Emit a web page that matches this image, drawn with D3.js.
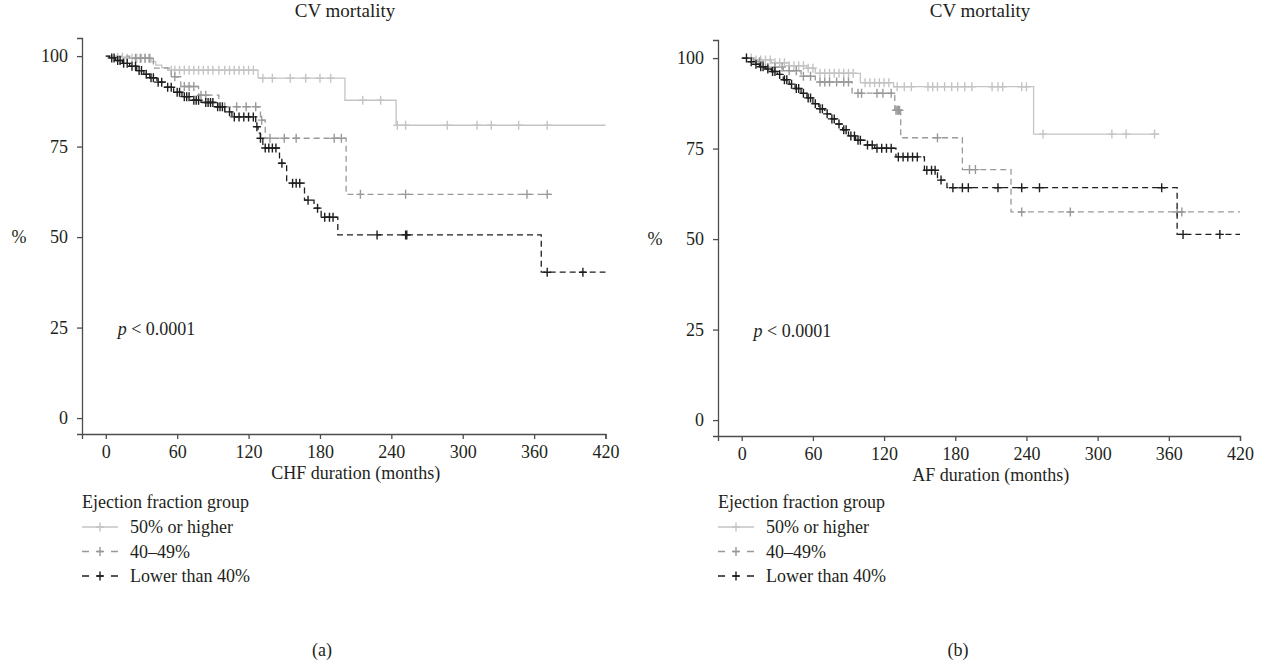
<!DOCTYPE html>
<html lang="en">
<head>
<meta charset="utf-8">
<title>CV mortality by ejection fraction group</title>
<style>
html, body {
    margin: 0;
    background: #fff;
}
svg text {
    font-family: "Liberation Serif", "Times New Roman", serif;
    fill: #231f20;
}
.axis path, .axis line {
    stroke: #4d4d4d;
    stroke-width: 1.3;
}
.axis text {
    font-size: 18px;
}
</style>
</head>
<body>
<svg id="chart" width="1268" height="667"></svg>

<script src="https://cdnjs.cloudflare.com/ajax/libs/d3/7.8.5/d3.min.js"></script>
<script>
// Tick labels
const months = [0, 60, 120, 180, 240, 300, 360, 420];
const percents = [0, 25, 50, 75, 100];
const groups = ['50% or higher', '40\u201349%', 'Lower than 40%'];

// Panel (a): CHF duration. Steps are [month, survival %], last one is where the curve ends
const chfHighSteps = [[0,100],[8,99.7],[15,99.4],[38,98.5],[42,97.5],[47,96.8],[52,96.1],[128,93.9],[201,87.8],[244,80.9],[420,80.9]];
const chfHighCensor = [10,14,18,22,26,30,33,36,55,58,62,66,70,74,78,82,86,90,95,100,104,108,112,116,120,124,132,140,155,168,180,189,216,231,245,252,287,312,324,347,371];
const chfMidSteps = [[0,100],[20,99.4],[40,96.7],[55,94.3],[63,91.6],[78,89.2],[95,86],[130,82.3],[134,77.3],[202,61.8],[375,61.8]];
const chfMidCensor = [25,29,33,37,58,66,70,74,80,84,100,110,118,126,131,138,150,160,192,198,214,252,354,371];
const chfLowSteps = [[0,100],[3,99.5],[8,98.8],[14,98],[20,97.2],[26,96],[32,95],[37,94],[43,92.8],[50,91.4],[57,90],[64,88.8],[72,87.8],[80,87.2],[92,86],[100,84.6],[106,83.2],[126,80.5],[128,78.7],[130,77.3],[132,74.6],[146,70.4],[152,64.9],[167,60.2],[175,58],[181,55.5],[195,50.6],[366,40.3],[420,40.3]];
const chfLowCensor = [5,7,10,12,15,18,22,25,28,30,34,38,40,44,47,52,55,60,62,66,68,70,74,76,78,84,86,88,90,94,96,98,104,108,112,116,120,124,127,130,134,137,140,143,148,157,160,163,170,178,184,188,191,228,252,253,371,401];

// Panel (b): AF duration
const afHighSteps = [[0,100],[10,99.5],[25,98.7],[40,97.9],[55,97.2],[62,95.8],[100,93.2],[128,92.1],[246,79],[352,79]];
const afHighCensor = [8,12,16,20,24,28,32,36,40,44,48,52,56,60,66,70,74,78,82,86,90,94,104,108,112,116,120,124,131,137,143,157,161,165,171,177,182,188,194,211,216,220,236,240,254,312,324,348];
const afMidSteps = [[0,100],[10,99],[20,97.5],[35,96.5],[50,95],[62,93.4],[93,90.3],[129,85.6],[134,78],[186,69.2],[227,57.5],[420,57.5]];
const afMidCensor = [15,22,28,34,40,46,52,58,66,70,74,80,86,90,98,101,114,119,126,130,131,132,133,165,192,197,236,277,367,371];
const afLowSteps = [[0,100],[5,99],[10,98.3],[15,97.6],[20,97],[25,96.3],[30,95.5],[35,94],[40,92.8],[45,91.6],[50,90.3],[55,89],[60,87.4],[65,86],[70,84.6],[75,83.2],[80,81.8],[85,80.2],[90,78.5],[96,77.3],[104,76],[112,75.1],[130,72.7],[154,69],[165,66.3],[173,64.2],[367,51.3],[420,51.3]];
const afLowCensor = [4,8,12,16,18,22,26,28,32,36,38,42,46,48,52,56,58,62,66,68,72,76,78,82,86,88,92,95,98,100,106,110,114,118,122,126,132,136,140,144,148,156,160,163,168,178,186,191,216,236,251,354,372,403];

// line styles for the three groups
const styles = [
  { color: '#c4c4c4', dash: null, legendDash: null },
  { color: '#999999', dash: '6,4', legendDash: '7,8,6,8,7' },
  { color: '#1e1e1e', dash: '6,4', legendDash: '7,8,6,8,7' }
];

const svg = d3.select('#chart');

function survAt(steps, t) {
  const i = d3.bisector(d => d[0]).right(steps, t) - 1;
  return steps[Math.max(0, i)][1];
}

function drawPanel(opts) {
  const g = svg.append('g');
  const x = d3.scaleLinear().domain([-20, 420]).range([opts.left, opts.right]);
  const y = d3.scaleLinear().domain([-4.4, 105]).range([opts.bottom, opts.top]);

  g.append('g')
    .attr('class', 'axis')
    .attr('transform', 'translate(0,' + opts.bottom + ')')
    .call(d3.axisBottom(x).tickValues(months).tickSizeOuter(0).tickSize(5).tickPadding(6));

  g.append('g')
    .attr('class', 'axis')
    .attr('transform', 'translate(' + opts.left + ',0)')
    .call(d3.axisLeft(y).tickValues(percents).tickSizeOuter(0).tickSize(5).tickPadding(9));

  g.selectAll('.axis text').attr('fill', '#231f20').style('font-family', '"Liberation Serif", serif');

  g.append('text')
    .attr('x', opts.titleX).attr('y', 17)
    .attr('text-anchor', 'middle')
    .style('font-size', '19px')
    .text('CV mortality');

  g.append('text')
    .attr('x', opts.left - 63).attr('y', y(50) + 6)
    .attr('text-anchor', 'middle')
    .style('font-size', '18px')
    .text('%');

  g.append('text')
    .attr('x', (x(0) + x(420)) / 2).attr('y', opts.bottom + 45)
    .attr('text-anchor', 'middle')
    .style('font-size', '18px')
    .text(opts.xLabel);

  const pText = g.append('text')
    .attr('x', x(10)).attr('y', y(23))
    .style('font-size', '18px');
  pText.append('tspan').style('font-style', 'italic').text('p');
  pText.append('tspan').text(' < 0.0001');

  const line = d3.line()
    .x(d => x(d[0]))
    .y(d => y(d[1]))
    .curve(d3.curveStepAfter);

  opts.series.forEach((s, i) => {
    const st = styles[i];
    g.append('path')
      .attr('d', line(s.steps))
      .attr('fill', 'none')
      .attr('stroke', st.color)
      .attr('stroke-width', 1.3)
      .attr('stroke-dasharray', st.dash);

    g.append('g').selectAll('path')
      .data(s.censor)
      .join('path')
      .attr('d', t => {
        const cx = x(t), cy = y(survAt(s.steps, t));
        return 'M' + (cx - 4) + ',' + cy + 'h8M' + cx + ',' + (cy - 4.5) + 'v9';
      })
      .attr('fill', 'none')
      .attr('stroke', st.color)
      .attr('stroke-width', 1.4);
  });

  // legend
  const lx = opts.left;
  g.append('text')
    .attr('x', lx).attr('y', 508)
    .style('font-size', '18px')
    .text('Ejection fraction group');

  groups.forEach((name, i) => {
    const st = styles[i];
    const ly = 527 + i * 24.5;
    g.append('line')
      .attr('x1', lx).attr('x2', lx + 36)
      .attr('y1', ly).attr('y2', ly)
      .attr('stroke', st.color)
      .attr('stroke-width', 1.3)
      .attr('stroke-dasharray', st.legendDash);
    g.append('path')
      .attr('d', 'M' + (lx + 14) + ',' + ly + 'h8M' + (lx + 18) + ',' + (ly - 4.5) + 'v9')
      .attr('stroke', st.color)
      .attr('stroke-width', 1.4);
    g.append('text')
      .attr('x', lx + 48).attr('y', ly + 6)
      .style('font-size', '18px')
      .text(name);
  });

  g.append('text')
    .attr('x', opts.capX).attr('y', 656)
    .attr('text-anchor', 'middle')
    .style('font-size', '18px')
    .text(opts.caption);
}

drawPanel({
  left: 82, right: 605.5, top: 38, bottom: 434,
  titleX: 345, capX: 322, caption: '(a)',
  xLabel: 'CHF duration (months)',
  series: [
    { steps: chfHighSteps, censor: chfHighCensor },
    { steps: chfMidSteps, censor: chfMidCensor },
    { steps: chfLowSteps, censor: chfLowCensor }
  ]
});

drawPanel({
  left: 718, right: 1240, top: 40, bottom: 436,
  titleX: 980, capX: 958, caption: '(b)',
  xLabel: 'AF duration (months)',
  series: [
    { steps: afHighSteps, censor: afHighCensor },
    { steps: afMidSteps, censor: afMidCensor },
    { steps: afLowSteps, censor: afLowCensor }
  ]
});
</script>
</body>
</html>
